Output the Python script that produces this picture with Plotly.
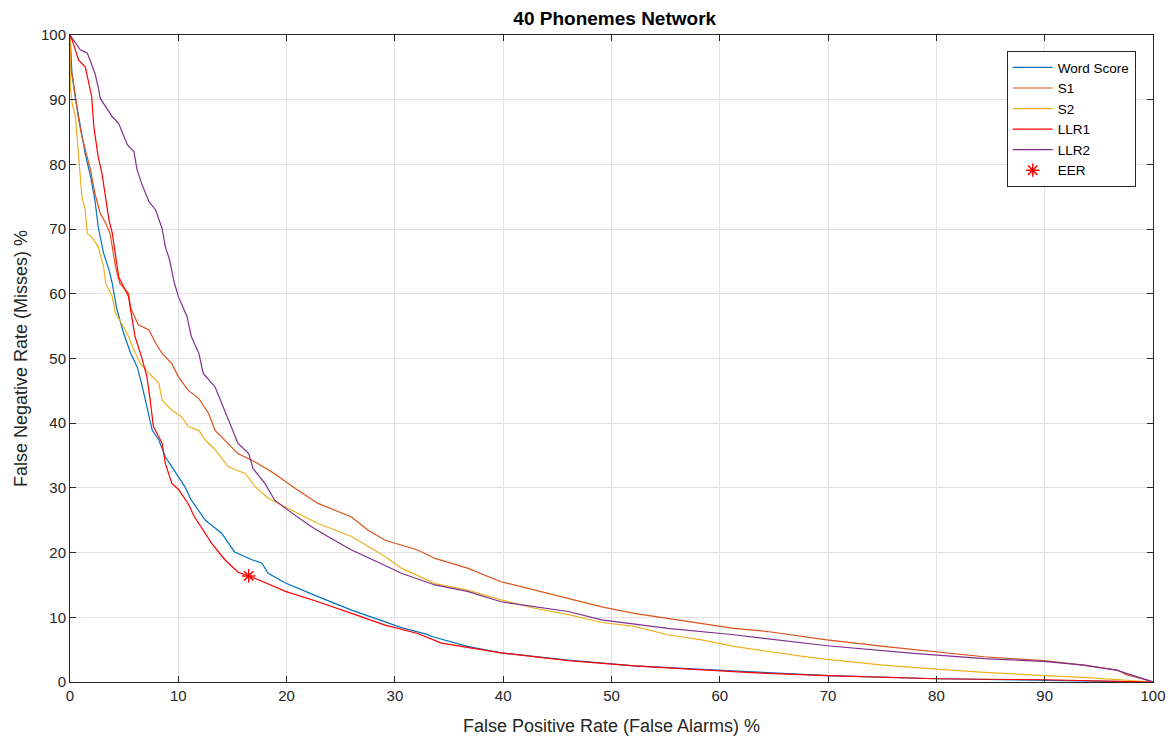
import plotly.graph_objects as go

# ---- data ----
word_x = [0, 0.18, 0.5, 1.1, 1.4, 1.9, 2.3, 2.6, 3.1, 3.6, 3.9, 4.3, 4.95, 5.6, 6.2, 6.6, 7.1, 7.6, 8.2, 8.8, 9.4,
          10.6, 11.2, 12.5, 14.0, 15.2, 16.8, 17.7, 18.3, 19.9, 22.9, 26.0, 29.1, 30.6, 32.9, 33.5, 36.7, 39.8,
          46.0, 52.1, 58.3, 64.4, 70, 80, 90, 100]
word_y = [100, 94, 90.2, 84.3, 81.7, 78.1, 74.5, 70.4, 66.3, 63.7, 61.6, 57.8, 53.9, 50.8, 48.7, 46.2, 42.6, 38.9,
          37.4, 34.8, 33.3, 30.2, 28.1, 25.0, 23.0, 20.1, 18.9, 18.4, 16.8, 15.3, 13.2, 11.1, 9.3, 8.4, 7.4, 7.0,
          5.5, 4.5, 3.4, 2.5, 1.96, 1.4, 1.0, 0.5, 0.25, 0]

s1_x = [0, 0.1, 0.5, 0.8, 1.1, 1.4, 1.9, 2.3, 2.8, 3.3, 3.7, 4.0, 4.2, 4.6, 5.4, 5.6, 6.3, 7.3, 7.9, 8.5, 9.4, 10.0,
        10.9, 11.9, 12.8, 13.4, 14.3, 15.5, 17.1, 18.9, 20.8, 22.9, 26.0, 27.5, 29.1, 32.1, 33.7, 36.7, 39.8, 42.9,
        46.0, 49.1, 52.1, 55.2, 58.3, 61.3, 64.4, 67.5, 69.9, 75.1, 80.0, 84.4, 89.9, 93.6, 96.7, 97.6, 99.7, 100]
s1_y = [100, 95, 90.5, 86.9, 84.3, 82.2, 79.1, 75.5, 72.4, 70.9, 69.3, 66.3, 64.2, 61.6, 60.1, 57.8, 55.2, 54.4,
        52.4, 50.8, 49.2, 47.2, 45.1, 43.8, 41.5, 38.9, 37.4, 35.3, 34.0, 32.2, 29.9, 27.6, 25.5, 23.5, 21.9, 20.4,
        19.1, 17.6, 15.5, 14.2, 12.9, 11.6, 10.6, 9.8, 9.1, 8.3, 7.8, 7.1, 6.5, 5.5, 4.7, 3.9, 3.3, 2.6, 1.85, 1.1,
        0.2, 0]

s2_x = [0, 0.03, 0.2, 0.5, 0.65, 0.8, 0.95, 1.1, 1.4, 1.6, 2.0, 2.6, 3.1, 3.3, 3.9, 4.2, 4.95, 5.4, 5.9, 6.5, 7.3,
        8.2, 8.5, 9.4, 10.3, 10.9, 11.9, 12.5, 13.4, 14.6, 16.2, 17.1, 18.3, 19.8, 22.9, 26.0, 29.1, 30.6, 33.7,
        36.7, 39.8, 42.9, 46.0, 49.1, 52.1, 55.2, 58.3, 61.3, 64.4, 67.5, 69.9, 75.1, 80.0, 84.4, 89.9, 93.6, 100]
s2_y = [100, 92, 89.4, 87.4, 84.3, 81.2, 79.1, 75.0, 73.0, 69.3, 68.8, 67.3, 64.2, 61.6, 59.6, 57.0, 54.9, 53.4,
        51.3, 49.2, 47.7, 46.2, 43.6, 42.0, 41.0, 39.5, 38.9, 37.4, 35.9, 33.3, 32.2, 30.2, 28.4, 27.1, 24.5, 22.5,
        19.4, 17.6, 15.2, 14.2, 12.7, 11.4, 10.4, 9.2, 8.6, 7.3, 6.5, 5.5, 4.7, 4.0, 3.5, 2.6, 2.0, 1.5, 1.0, 0.7, 0]

llr1_x = [0, 0.2, 0.8, 1.4, 1.6, 2.0, 2.2, 2.5, 2.6, 2.95, 3.3, 3.6, 3.9, 4.2, 4.5, 4.8, 5.4, 5.7, 6.0, 6.6, 7.1,
          7.4, 7.7, 8.5, 8.8, 9.4, 10.0, 10.9, 11.5, 13.1, 14.3, 15.5, 16.5, 17.4, 19.9, 22.9, 26.0, 29.1, 32.1,
          34.3, 39.8, 46.0, 52.1, 58.3, 62.9, 69.9, 80.0, 89.9, 100]
llr1_y = [100, 99.2, 96.1, 95.1, 93.6, 90.5, 85.8, 82.7, 81.2, 78.6, 75.0, 71.4, 69.4, 66.3, 62.6, 61.6, 59.6, 56.5,
          53.4, 50.3, 47.2, 43.6, 39.5, 36.9, 33.8, 30.7, 29.8, 27.6, 25.5, 21.4, 18.9, 17.0, 16.4, 15.8, 14.0, 12.4,
          10.6, 8.8, 7.5, 6.0, 4.5, 3.3, 2.5, 1.9, 1.44, 1.0, 0.5, 0.35, 0]

llr2_x = [0, 0.5, 0.95, 1.6, 2.0, 2.3, 2.6, 2.8, 3.3, 3.9, 4.5, 4.95, 5.3, 5.9, 6.2, 6.6, 7.3, 7.9, 8.5, 8.8, 9.2,
          9.6, 10.0, 10.8, 11.2, 11.9, 12.3, 13.4, 14.0, 14.8, 15.5, 16.5, 16.9, 18.0, 18.9, 20.5, 22.3, 23.8, 26.0,
          29.1, 30.6, 33.7, 36.7, 39.8, 42.9, 46.0, 49.1, 52.1, 55.2, 61.3, 69.9, 78.2, 84.4, 89.9, 93.6, 96.7,
          97.6, 100]
llr2_y = [100, 98.7, 97.7, 97.2, 95.6, 94.1, 92.0, 90.2, 88.9, 87.4, 86.3, 84.3, 83.0, 82.0, 79.1, 77.1, 74.2, 73.0,
          70.1, 67.3, 65.2, 61.9, 59.6, 56.5, 53.4, 50.8, 47.7, 45.6, 43.1, 40.0, 36.9, 35.3, 33.0, 30.7, 28.1, 26.1,
          24.0, 22.5, 20.4, 18.0, 16.8, 15.0, 14.0, 12.4, 11.7, 10.9, 9.6, 9.0, 8.3, 7.3, 5.6, 4.4, 3.6, 3.2, 2.6,
          1.8, 1.3, 0]

eer_x = [16.5]
eer_y = [16.4]

series = [
    ("Word Score", word_x, word_y, "#0072BD"),
    ("S1", s1_x, s1_y, "#D95319"),
    ("S2", s2_x, s2_y, "#EDB120"),
    ("LLR1", llr1_x, llr1_y, "#FF0000"),
    ("LLR2", llr2_x, llr2_y, "#7E2F8E"),
]

FONT = "Liberation Sans, Arial"

fig = go.Figure()
for name, xs, ys, col in series:
    fig.add_trace(go.Scatter(x=xs, y=ys, mode="lines", name=name,
                             line=dict(color=col, width=1.2)))
fig.add_trace(go.Scatter(x=eer_x, y=eer_y, mode="markers", name="EER",
                         marker=dict(symbol="asterisk-open", size=11, color="#FF0000",
                                     line=dict(color="#FF0000", width=1.5))))

axis_common = dict(
    range=[0, 100], dtick=10, showgrid=True, gridcolor="#E3E3E3", gridwidth=1,
    showline=True, linecolor="#262626", linewidth=1, mirror="ticks",
    ticks="inside", ticklen=6, tickcolor="#262626", zeroline=False,
    tickfont=dict(family=FONT, size=15, color="#262626"),
)

fig.update_layout(
    width=1176, height=737,
    margin=dict(l=60, r=31, t=27, b=63),
    paper_bgcolor="white", plot_bgcolor="white",
    title=dict(text="<b>40 Phonemes Network</b>", xref="paper", x=0.503, xanchor="center",
               yref="container", y=0.986, yanchor="middle",
               font=dict(family=FONT, size=19, color="#000000")),
    xaxis=dict(axis_common, title=dict(text="False Positive Rate (False Alarms) %", standoff=16,
                                        font=dict(family=FONT, size=18, color="#262626"))),
    yaxis=dict(axis_common, title=dict(text="False Negative Rate (Misses) %", standoff=8,
                                        font=dict(family=FONT, size=18, color="#262626"))),
    legend=dict(x=0.984, y=0.975, xanchor="right", yanchor="top", bgcolor="white",
                bordercolor="#262626", borderwidth=1,
                font=dict(family=FONT, size=13.5, color="#000000"),
                tracegroupgap=0, itemwidth=40),
    showlegend=True,
)

fig.write_html("out.html")
